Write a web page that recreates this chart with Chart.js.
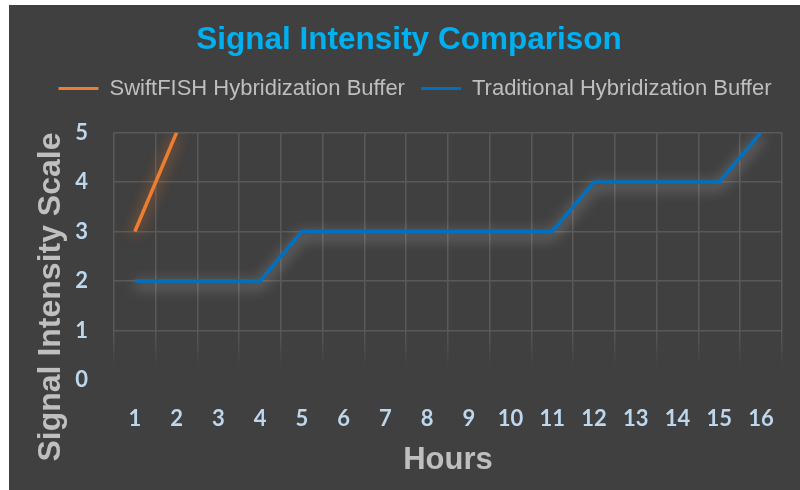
<!DOCTYPE html>
<html>
<head>
<meta charset="utf-8">
<script src="https://cdn.jsdelivr.net/npm/chart.js@4.4.1/dist/chart.umd.min.js"></script>
<style>
  html, body { margin: 0; padding: 0; background: #ffffff; }
  #wrap { position: absolute; left: 9px; top: 5px; width: 791px; height: 485px; background: #404040; }
</style>
</head>
<body>
<div id="wrap"><canvas id="chart"></canvas></div>
<script>
const hours = ['1','2','3','4','5','6','7','8','9','10','11','12','13','14','15','16']
const swiftFish = [3, 5]
const traditional = [2, 2, 2, 2, 3, 3, 3, 3, 3, 3, 3, 4, 4, 4, 4, 5]
const yTitle = 'Signal Intensity Scale'

const glow = {
  id: 'glow',
  beforeDatasetDraw(chart, args) {
    const ctx = chart.ctx
    ctx.save()
    if (args.index === 0) {
      ctx.shadowColor = 'rgba(237,125,49,0.8)'
      ctx.shadowBlur = 14
      ctx.shadowOffsetY = 2
    } else {
      ctx.shadowColor = 'rgba(255,255,255,0.5)'
      ctx.shadowBlur = 14
      ctx.shadowOffsetY = 4
    }
  },
  afterDatasetDraw(chart) {
    chart.ctx.restore()
  }
}

// extra room under the legend, and nudge it right a bit like the original
const legendTweak = {
  id: 'legendTweak',
  beforeInit(chart) {
    const legend = chart.legend
    const fit = legend.fit
    legend.fit = function () {
      fit.call(this)
      this.height += 23
    }
    const draw = legend.draw
    legend.draw = function () {
      const ctx = this.ctx
      ctx.save()
      ctx.translate(6, 0)
      draw.call(this)
      ctx.restore()
    }
  }
}

const yTitlePlugin = {
  id: 'yTitle',
  afterDraw(chart) {
    const ctx = chart.ctx
    ctx.save()
    ctx.translate(42, 292)
    ctx.rotate(-Math.PI / 2)
    ctx.font = 'bold 32px "Liberation Sans", Arial, sans-serif'
    ctx.fillStyle = '#bfbfbf'
    ctx.textAlign = 'center'
    ctx.textBaseline = 'middle'
    ctx.fillText(yTitle, 0, 0)
    ctx.restore()
  }
}

function fadeGrid(context) {
  const chart = context.chart
  const area = chart.chartArea
  if (!area) return '#595959'
  const y1 = chart.scales.y.getPixelForValue(1)
  const g = chart.ctx.createLinearGradient(0, area.top, 0, area.bottom)
  const stop = (y1 - area.top) / (area.bottom - area.top)
  g.addColorStop(0, '#595959')
  g.addColorStop(Math.min(stop, 1), '#595959')
  g.addColorStop(Math.min(stop + 0.15, 1), 'rgba(89,89,89,0)')
  g.addColorStop(1, 'rgba(89,89,89,0)')
  return g
}

new Chart(document.getElementById('chart').getContext('2d'), {
  type: 'line',
  data: {
    labels: hours,
    datasets: [
      {
        label: 'SwiftFISH Hybridization Buffer',
        data: swiftFish,
        borderColor: '#ed7d31',
        backgroundColor: '#ed7d31',
        borderWidth: 3.5,
        pointRadius: 0,
        tension: 0
      },
      {
        label: 'Traditional Hybridization Buffer',
        data: traditional,
        borderColor: '#0070c0',
        backgroundColor: '#0070c0',
        borderWidth: 3.5,
        pointRadius: 0,
        tension: 0
      }
    ]
  },
  options: {
    responsive: true,
    maintainAspectRatio: false,
    animation: false,
    layout: { padding: { left: 18, right: 9, top: 0, bottom: 0 } },
    plugins: {
      title: {
        display: true,
        text: 'Signal Intensity Comparison',
        color: '#00b0f0',
        font: { family: '"Liberation Sans", Arial, sans-serif', size: 31.5, weight: 'bold', lineHeight: 1 },
        padding: { top: 20, bottom: 5 }
      },
      legend: {
        display: true,
        labels: {
          color: '#bfbfbf',
          font: { family: '"Liberation Sans", Arial, sans-serif', size: 22 },
          boxWidth: 40,
          boxHeight: 3,
          padding: 16,
          generateLabels(chart) {
            return chart.data.datasets.map((ds, i) => ({
              text: ds.label,
              fillStyle: ds.borderColor,
              strokeStyle: ds.borderColor,
              lineWidth: 0,
              fontColor: '#bfbfbf',
              datasetIndex: i
            }))
          }
        }
      },
      tooltip: { enabled: false }
    },
    scales: {
      x: {
        offset: true,
        grid: { offset: true, color: fadeGrid, lineWidth: 1.5, drawTicks: false },
        border: { display: false },
        ticks: {
          color: '#bdd7ee',
          font: { family: 'Lato, "Open Sans", sans-serif', size: 22, weight: 'bold' },
          padding: 26,
          maxRotation: 0
        },
        title: {
          display: true,
          text: 'Hours',
          color: '#bfbfbf',
          font: { family: '"Liberation Sans", Arial, sans-serif', size: 31, weight: 'bold' },
          padding: { top: 0, bottom: 11 }
        },
        afterFit(scale) { scale.height = 110 }
      },
      y: {
        min: 0,
        max: 5,
        ticks: {
          stepSize: 1,
          color: '#bdd7ee',
          font: { family: 'Lato, "Open Sans", sans-serif', size: 22, weight: 'bold' },
          padding: 26
        },
        grid: {
          color: (c) => c.tick && c.tick.value === 0 ? 'rgba(0,0,0,0)' : '#595959',
          lineWidth: 1.5,
          drawTicks: false
        },
        border: { display: false },
        afterFit(scale) { scale.width = 87 }
      }
    }
  },
  plugins: [glow, legendTweak, yTitlePlugin]
})
</script>
</body>
</html>
